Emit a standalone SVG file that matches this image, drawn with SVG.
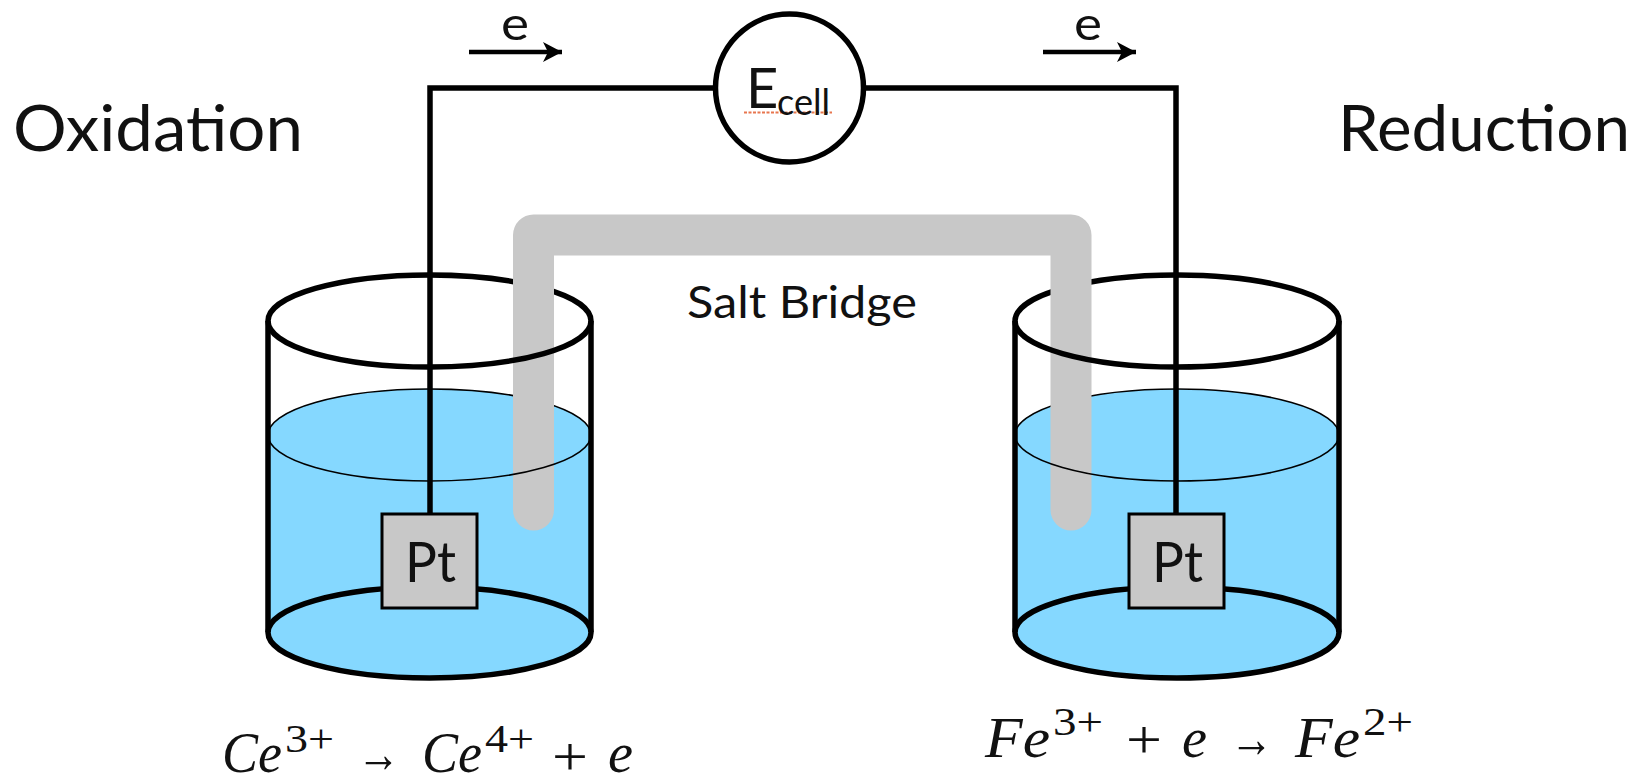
<svg xmlns="http://www.w3.org/2000/svg" width="1638" height="778" viewBox="0 0 1638 778">
<style>
.s{fill:none;stroke:#000;stroke-width:5.5}
.t{fill:none;stroke:#000;stroke-width:1.6}
.liq{fill:#85d8ff;stroke:none}
.pt{fill:#c8c8c8;stroke:#000;stroke-width:3}
text{font-family:Lato,"Open Sans",sans-serif;fill:#111}
.m{font-family:"Liberation Serif","DejaVu Serif",serif;font-style:italic;font-size:56px}
.u{font-style:normal;font-size:39px}
.o{font-style:normal;font-size:54px}
</style>
<defs>
<marker id="ah" markerUnits="userSpaceOnUse" markerWidth="20" markerHeight="20" refX="19" refY="10" orient="auto"><path d="M0 0L19 10L0 20L5 10Z" fill="#000"/></marker>
</defs>
<g id="beaker-left">
<path class="liq" d="M268 435A161 46 0 0 1 591 435V632A161 46 0 0 1 268 632Z"/>
<path class="s" d="M268 321V632M591 321V632"/>
<ellipse class="s" cx="429.500" cy="632.500" rx="161.500" ry="45.500"/>
<path class="s" d="M268 321A161.500 46 0 0 1 591 321"/>
<path class="t" d="M268 435A161.500 46 0 0 1 591 435"/>
</g>
<g id="beaker-right">
<path class="liq" d="M1015 435A162 46 0 0 1 1339 435V632A162 46 0 0 1 1015 632Z"/>
<path class="s" d="M1015 321V632M1339 321V632"/>
<ellipse class="s" cx="1177" cy="632.500" rx="162" ry="45.500"/>
<path class="s" d="M1015 321A162 46 0 0 1 1339 321"/>
<path class="t" d="M1015 435A162 46 0 0 1 1339 435"/>
</g>
<g id="salt-bridge">
<path d="M533.500 510V235H1071V510" fill="none" stroke="#c8c8c8" stroke-width="41" stroke-linecap="round" stroke-linejoin="round"/>
<text x="687" y="318" font-size="44" textLength="230" lengthAdjust="spacingAndGlyphs">Salt Bridge</text>
</g>
<g id="beaker-fronts">
<path class="s" d="M268 321A161.500 46 0 0 0 591 321"/>
<path class="t" d="M268 435A161.500 46 0 0 0 591 435"/>
<path class="s" d="M1015 321A162 46 0 0 0 1339 321"/>
<path class="t" d="M1015 435A162 46 0 0 0 1339 435"/>
</g>
<g id="connectors">
<path class="s" d="M430 514V88H715M864 88H1176V514"/>
<path d="M469 52H562" stroke="#000" stroke-width="4.500" fill="none" marker-end="url(#ah)"/>
<path d="M1043 52H1136" stroke="#000" stroke-width="4.500" fill="none" marker-end="url(#ah)"/>
</g>
<g id="electrode-left">
<rect class="pt" x="382" y="514" width="95" height="94"/>
<text x="405" y="582" font-size="56" textLength="51" lengthAdjust="spacingAndGlyphs">Pt</text>
</g>
<g id="electrode-right">
<rect class="pt" x="1129" y="514" width="95" height="94"/>
<text x="1152" y="582" font-size="56" textLength="51" lengthAdjust="spacingAndGlyphs">Pt</text>
</g>
<g id="ecell">
<circle cx="789.500" cy="88" r="74" fill="#fff" stroke="#000" stroke-width="5.500"/>
<path d="M744 112.500H832" stroke="#e8764f" stroke-width="1.800" stroke-dasharray="3 1.500" fill="none"/>
<text x="746" y="108" font-size="56">E</text>
<text x="777" y="115" font-size="37" textLength="53" lengthAdjust="spacingAndGlyphs">cell</text>
</g>
<g id="labels">
<text x="501" y="40" font-size="46" textLength="28" lengthAdjust="spacingAndGlyphs">e</text>
<text x="1074" y="40" font-size="46" textLength="28" lengthAdjust="spacingAndGlyphs">e</text>
<text x="13" y="151" font-size="63" textLength="290" lengthAdjust="spacingAndGlyphs">Oxidation</text>
<text x="1338" y="151" font-size="63" textLength="292" lengthAdjust="spacingAndGlyphs">Reduction</text>
</g>
<g id="eq-left">
<text class="m" x="222" y="772" textLength="60" lengthAdjust="spacingAndGlyphs">Ce</text>
<text class="m u" x="285" y="752" textLength="49" lengthAdjust="spacingAndGlyphs">3+</text>
<text class="m o" x="357" y="772" textLength="43" lengthAdjust="spacingAndGlyphs">→</text>
<text class="m" x="422" y="772" textLength="60" lengthAdjust="spacingAndGlyphs">Ce</text>
<text class="m u" x="485" y="752" textLength="49" lengthAdjust="spacingAndGlyphs">4+</text>
<text class="m o" x="552" y="775" textLength="36" lengthAdjust="spacingAndGlyphs">+</text>
<text class="m" x="608" y="772" textLength="25" lengthAdjust="spacingAndGlyphs">e</text>
</g>
<g id="eq-right">
<text class="m" x="985" y="757" textLength="65" lengthAdjust="spacingAndGlyphs">Fe</text>
<text class="m u" x="1053" y="735" textLength="50" lengthAdjust="spacingAndGlyphs">3+</text>
<text class="m o" x="1126" y="758" textLength="36" lengthAdjust="spacingAndGlyphs">+</text>
<text class="m" x="1182" y="757" textLength="25" lengthAdjust="spacingAndGlyphs">e</text>
<text class="m o" x="1230" y="757" textLength="43" lengthAdjust="spacingAndGlyphs">→</text>
<text class="m" x="1295" y="757" textLength="65" lengthAdjust="spacingAndGlyphs">Fe</text>
<text class="m u" x="1363" y="735" textLength="50" lengthAdjust="spacingAndGlyphs">2+</text>
</g>
</svg>
